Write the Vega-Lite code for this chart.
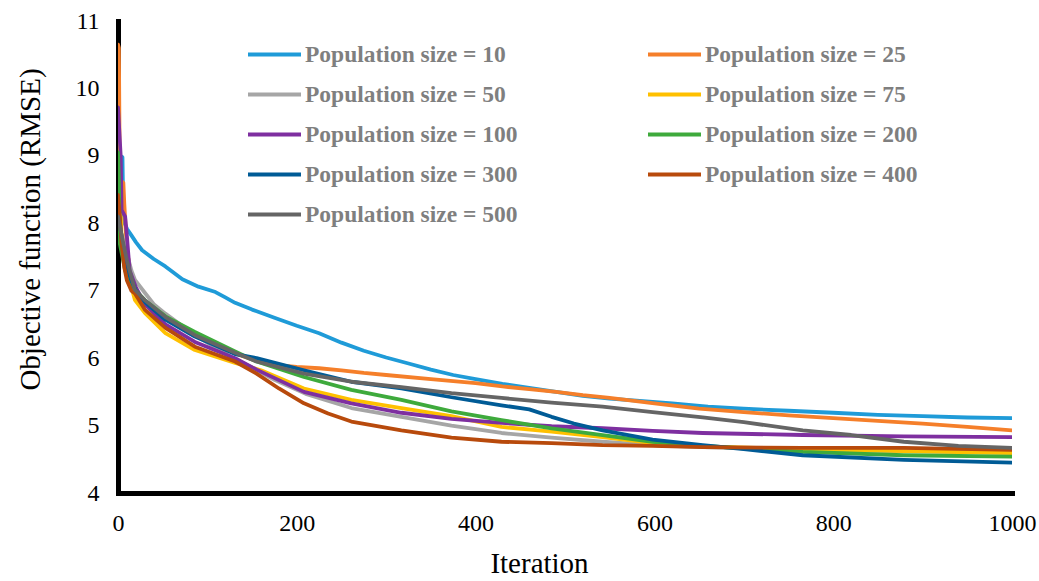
{
  "$schema": "https://vega.github.io/schema/vega-lite/v6.json",
  "width": 894,
  "height": 472,
  "autosize": {"type": "none"},
  "padding": {"left": 118, "top": 21, "right": 27, "bottom": 88},
  "background": "white",
  "data": {"values": [
    {"p":10,"i":0,"v":9.02},{"p":10,"i":5,"v":8.98},{"p":10,"i":6,"v":8.05},{"p":10,"i":10,"v":7.92},{"p":10,"i":15,"v":7.82},{"p":10,"i":20,"v":7.72},{"p":10,"i":27,"v":7.6},{"p":10,"i":40,"v":7.47},{"p":10,"i":53,"v":7.36},{"p":10,"i":62,"v":7.27},{"p":10,"i":72,"v":7.17},{"p":10,"i":90,"v":7.06},{"p":10,"i":109,"v":6.98},{"p":10,"i":120,"v":6.9},{"p":10,"i":131,"v":6.82},{"p":10,"i":150,"v":6.72},{"p":10,"i":175,"v":6.6},{"p":10,"i":200,"v":6.48},{"p":10,"i":225,"v":6.37},{"p":10,"i":250,"v":6.23},{"p":10,"i":275,"v":6.11},{"p":10,"i":300,"v":6.01},{"p":10,"i":325,"v":5.92},{"p":10,"i":350,"v":5.83},{"p":10,"i":375,"v":5.75},{"p":10,"i":400,"v":5.69},{"p":10,"i":430,"v":5.62},{"p":10,"i":460,"v":5.56},{"p":10,"i":490,"v":5.5},{"p":10,"i":520,"v":5.44},{"p":10,"i":550,"v":5.4},{"p":10,"i":580,"v":5.37},{"p":10,"i":620,"v":5.33},{"p":10,"i":660,"v":5.28},{"p":10,"i":700,"v":5.25},{"p":10,"i":750,"v":5.22},{"p":10,"i":800,"v":5.19},{"p":10,"i":850,"v":5.16},{"p":10,"i":900,"v":5.14},{"p":10,"i":950,"v":5.12},{"p":10,"i":1000,"v":5.11},
    {"p":25,"i":0,"v":10.65},{"p":25,"i":1,"v":10.6},{"p":25,"i":2,"v":8.65},{"p":25,"i":6,"v":8.6},{"p":25,"i":7,"v":8.3},{"p":25,"i":10,"v":7.6},{"p":25,"i":15,"v":7.2},{"p":25,"i":20,"v":7.0},{"p":25,"i":30,"v":6.84},{"p":25,"i":53,"v":6.6},{"p":25,"i":86,"v":6.36},{"p":25,"i":131,"v":6.07},{"p":25,"i":150,"v":5.98},{"p":25,"i":175,"v":5.9},{"p":25,"i":200,"v":5.87},{"p":25,"i":225,"v":5.85},{"p":25,"i":250,"v":5.82},{"p":25,"i":275,"v":5.78},{"p":25,"i":300,"v":5.75},{"p":25,"i":350,"v":5.69},{"p":25,"i":400,"v":5.63},{"p":25,"i":430,"v":5.58},{"p":25,"i":460,"v":5.54},{"p":25,"i":490,"v":5.5},{"p":25,"i":520,"v":5.45},{"p":25,"i":550,"v":5.41},{"p":25,"i":600,"v":5.33},{"p":25,"i":650,"v":5.25},{"p":25,"i":700,"v":5.2},{"p":25,"i":750,"v":5.15},{"p":25,"i":800,"v":5.11},{"p":25,"i":850,"v":5.07},{"p":25,"i":900,"v":5.03},{"p":25,"i":950,"v":4.98},{"p":25,"i":1000,"v":4.93},
    {"p":50,"i":0,"v":8.0},{"p":50,"i":5,"v":7.8},{"p":50,"i":10,"v":7.55},{"p":50,"i":15,"v":7.3},{"p":50,"i":19,"v":7.16},{"p":50,"i":30,"v":6.97},{"p":50,"i":40,"v":6.8},{"p":50,"i":53,"v":6.66},{"p":50,"i":86,"v":6.34},{"p":50,"i":131,"v":5.98},{"p":50,"i":150,"v":5.86},{"p":50,"i":175,"v":5.68},{"p":50,"i":210,"v":5.47},{"p":50,"i":261,"v":5.26},{"p":50,"i":317,"v":5.13},{"p":50,"i":373,"v":5.0},{"p":50,"i":429,"v":4.89},{"p":50,"i":485,"v":4.82},{"p":50,"i":542,"v":4.76},{"p":50,"i":598,"v":4.71},{"p":50,"i":654,"v":4.68},{"p":50,"i":766,"v":4.64},{"p":50,"i":879,"v":4.62},{"p":50,"i":1000,"v":4.6},
    {"p":75,"i":0,"v":9.3},{"p":75,"i":2,"v":8.5},{"p":75,"i":4,"v":7.8},{"p":75,"i":7,"v":7.4},{"p":75,"i":12,"v":7.2},{"p":75,"i":19,"v":6.86},{"p":75,"i":30,"v":6.67},{"p":75,"i":53,"v":6.37},{"p":75,"i":86,"v":6.12},{"p":75,"i":131,"v":5.93},{"p":75,"i":160,"v":5.82},{"p":75,"i":208,"v":5.55},{"p":75,"i":261,"v":5.38},{"p":75,"i":317,"v":5.26},{"p":75,"i":373,"v":5.14},{"p":75,"i":429,"v":4.98},{"p":75,"i":485,"v":4.91},{"p":75,"i":542,"v":4.83},{"p":75,"i":598,"v":4.74},{"p":75,"i":654,"v":4.69},{"p":75,"i":766,"v":4.65},{"p":75,"i":879,"v":4.62},{"p":75,"i":1000,"v":4.59},
    {"p":100,"i":0,"v":9.72},{"p":100,"i":3,"v":9.0},{"p":100,"i":4,"v":8.2},{"p":100,"i":8,"v":8.1},{"p":100,"i":10,"v":7.8},{"p":100,"i":13,"v":7.3},{"p":100,"i":20,"v":7.05},{"p":100,"i":30,"v":6.8},{"p":100,"i":53,"v":6.5},{"p":100,"i":86,"v":6.24},{"p":100,"i":131,"v":6.0},{"p":100,"i":155,"v":5.83},{"p":100,"i":208,"v":5.5},{"p":100,"i":261,"v":5.33},{"p":100,"i":317,"v":5.19},{"p":100,"i":373,"v":5.1},{"p":100,"i":429,"v":5.04},{"p":100,"i":485,"v":4.99},{"p":100,"i":542,"v":4.96},{"p":100,"i":598,"v":4.92},{"p":100,"i":654,"v":4.89},{"p":100,"i":766,"v":4.86},{"p":100,"i":879,"v":4.84},{"p":100,"i":1000,"v":4.83},
    {"p":200,"i":0,"v":9.05},{"p":200,"i":1,"v":8.6},{"p":200,"i":2,"v":7.7},{"p":200,"i":5,"v":7.5},{"p":200,"i":8,"v":7.3},{"p":200,"i":12,"v":7.15},{"p":200,"i":20,"v":7.0},{"p":200,"i":30,"v":6.86},{"p":200,"i":53,"v":6.62},{"p":200,"i":86,"v":6.39},{"p":200,"i":131,"v":6.1},{"p":200,"i":155,"v":5.95},{"p":200,"i":208,"v":5.72},{"p":200,"i":261,"v":5.53},{"p":200,"i":317,"v":5.38},{"p":200,"i":373,"v":5.21},{"p":200,"i":429,"v":5.08},{"p":200,"i":485,"v":4.96},{"p":200,"i":542,"v":4.86},{"p":200,"i":598,"v":4.76},{"p":200,"i":654,"v":4.7},{"p":200,"i":766,"v":4.61},{"p":200,"i":879,"v":4.56},{"p":200,"i":1000,"v":4.54},
    {"p":300,"i":0,"v":8.3},{"p":300,"i":3,"v":7.9},{"p":300,"i":6,"v":7.6},{"p":300,"i":10,"v":7.35},{"p":300,"i":15,"v":7.15},{"p":300,"i":20,"v":7.0},{"p":300,"i":30,"v":6.83},{"p":300,"i":53,"v":6.57},{"p":300,"i":86,"v":6.32},{"p":300,"i":131,"v":6.06},{"p":300,"i":155,"v":6.0},{"p":300,"i":208,"v":5.82},{"p":300,"i":261,"v":5.65},{"p":300,"i":317,"v":5.55},{"p":300,"i":373,"v":5.42},{"p":300,"i":429,"v":5.3},{"p":300,"i":460,"v":5.24},{"p":300,"i":485,"v":5.13},{"p":300,"i":510,"v":5.03},{"p":300,"i":542,"v":4.93},{"p":300,"i":598,"v":4.79},{"p":300,"i":654,"v":4.71},{"p":300,"i":700,"v":4.65},{"p":300,"i":766,"v":4.56},{"p":300,"i":879,"v":4.49},{"p":300,"i":1000,"v":4.45},
    {"p":400,"i":0,"v":8.42},{"p":400,"i":2,"v":8.1},{"p":400,"i":4,"v":7.7},{"p":400,"i":7,"v":7.35},{"p":400,"i":10,"v":7.15},{"p":400,"i":15,"v":7.0},{"p":400,"i":19,"v":6.96},{"p":400,"i":30,"v":6.72},{"p":400,"i":53,"v":6.45},{"p":400,"i":86,"v":6.17},{"p":400,"i":131,"v":5.95},{"p":400,"i":155,"v":5.77},{"p":400,"i":180,"v":5.55},{"p":400,"i":208,"v":5.33},{"p":400,"i":235,"v":5.18},{"p":400,"i":261,"v":5.06},{"p":400,"i":317,"v":4.93},{"p":400,"i":373,"v":4.82},{"p":400,"i":429,"v":4.76},{"p":400,"i":485,"v":4.74},{"p":400,"i":542,"v":4.71},{"p":400,"i":598,"v":4.7},{"p":400,"i":654,"v":4.68},{"p":400,"i":766,"v":4.67},{"p":400,"i":879,"v":4.67},{"p":400,"i":1000,"v":4.64},
    {"p":500,"i":0,"v":8.1},{"p":500,"i":3,"v":7.9},{"p":500,"i":6,"v":7.7},{"p":500,"i":10,"v":7.45},{"p":500,"i":15,"v":7.2},{"p":500,"i":19,"v":7.01},{"p":500,"i":30,"v":6.86},{"p":500,"i":53,"v":6.61},{"p":500,"i":86,"v":6.34},{"p":500,"i":131,"v":6.08},{"p":500,"i":155,"v":5.95},{"p":500,"i":208,"v":5.77},{"p":500,"i":261,"v":5.65},{"p":500,"i":317,"v":5.57},{"p":500,"i":373,"v":5.48},{"p":500,"i":429,"v":5.41},{"p":500,"i":485,"v":5.34},{"p":500,"i":542,"v":5.28},{"p":500,"i":598,"v":5.2},{"p":500,"i":654,"v":5.12},{"p":500,"i":700,"v":5.05},{"p":500,"i":766,"v":4.93},{"p":500,"i":820,"v":4.86},{"p":500,"i":879,"v":4.76},{"p":500,"i":940,"v":4.7},{"p":500,"i":1000,"v":4.67}
  ]},
  "mark": {"type": "line", "strokeWidth": 3.8, "strokeJoin": "round", "strokeCap": "round", "clip": true},
  "encoding": {
    "x": {
      "field": "i", "type": "quantitative",
      "scale": {"domain": [0, 1000], "nice": false},
      "axis": {"values": [0, 200, 400, 600, 800, 1000], "format": "d", "title": "Iteration", "titleX": 421, "titleY": 70, "titleBaseline": "middle", "titleAlign": "center", "labelPadding": 18}
    },
    "y": {
      "field": "v", "type": "quantitative",
      "scale": {"domain": [4, 11], "nice": false, "zero": false},
      "axis": {"values": [4, 5, 6, 7, 8, 9, 10, 11], "title": "Objective function (RMSE)", "titleX": -88, "titleY": 208, "titleBaseline": "middle", "titleAlign": "center", "titleAngle": -90, "labelPadding": 19}
    },
    "color": {
      "field": "p", "type": "nominal",
      "scale": {"domain": [10, 25, 50, 75, 100, 200, 300, 400, 500],
                "range": ["#1F9BD8", "#F57F2A", "#A6A6A6", "#FFC000", "#7E2FA0", "#3EAA3C", "#005B96", "#B84A0C", "#656565"]},
      "legend": {
        "orient": "none", "legendX": 128, "legendY": 5, "columns": 2, "direction": "horizontal",
        "title": null, "padding": 0,
        "labelExpr": "'Population size = ' + datum.label",
        "symbolType": "stroke", "symbolSize": 2809, "symbolStrokeWidth": 4,
        "labelFont": "Liberation Serif", "labelFontSize": 23.5, "labelFontWeight": "bold",
        "labelColor": "#7F7F7F", "labelOffset": 2, "columnPadding": 122, "rowPadding": 0,
        "labelLimit": 400
      }
    }
  },
  "config": {
    "view": {"stroke": null},
    "axis": {
      "domainColor": "#000000", "domainWidth": 5, "domainCap": "square",
      "ticks": false, "tickSize": 0, "grid": false,
      "labelFont": "Liberation Serif", "labelFontSize": 24, "labelColor": "#000000",
      "titleFont": "Liberation Serif", "titleFontSize": 29, "titleFontWeight": "normal", "titleColor": "#000000",
      "labelFlush": false
    }
  }
}
